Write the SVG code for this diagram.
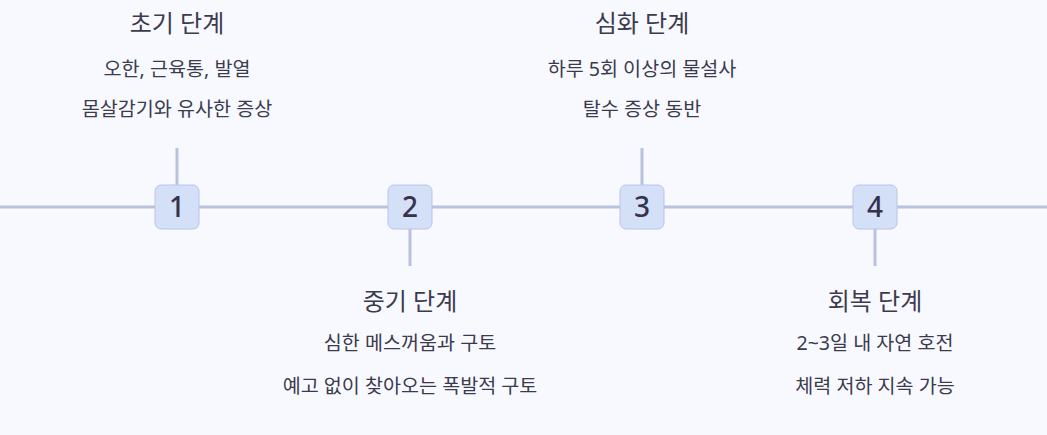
<svg xmlns="http://www.w3.org/2000/svg" width="1047" height="435" viewBox="0 0 1047 435">
<style>
.t{font-family:"Noto Sans","Noto Sans CJK KR",sans-serif;fill:#3b3b4d;text-anchor:middle}
.h{font-size:24px}
.s{font-size:19.6px}
.n{font-family:"Noto Sans",sans-serif;font-size:28px;fill:#33334a;text-anchor:middle;font-weight:500}
.box{fill:#d4dff8;stroke:#b8c6e8;stroke-width:1}
.ln{stroke:#b8c2dc;stroke-width:3;fill:none}
</style>
<rect width="1047" height="435" fill="#f8f9fe"/>
<g id="connectors">
<line class="ln" x1="0" y1="207" x2="1047" y2="207"/>
<line class="ln" x1="177" y1="148" x2="177" y2="185"/>
<line class="ln" x1="410" y1="229" x2="410" y2="266"/>
<line class="ln" x1="642" y1="148" x2="642" y2="185"/>
<line class="ln" x1="875" y1="229" x2="875" y2="266"/>
</g>
<g id="node1">
<rect class="box" x="155" y="185" width="44" height="44" rx="6"/>
<text class="n" x="177" y="217">1</text>
<text class="t h" x="177" y="32">초기 단계</text>
<text class="t s" x="177" y="76">오한, 근육통, 발열</text>
<text class="t s" x="177" y="116">몸살감기와 유사한 증상</text>
</g>
<g id="node2">
<rect class="box" x="388" y="185" width="44" height="44" rx="6"/>
<text class="n" x="410" y="217">2</text>
<text class="t h" x="410" y="310">중기 단계</text>
<text class="t s" x="410" y="350">심한 메스꺼움과 구토</text>
<text class="t s" x="410" y="393">예고 없이 찾아오는 폭발적 구토</text>
</g>
<g id="node3">
<rect class="box" x="620" y="185" width="44" height="44" rx="6"/>
<text class="n" x="642" y="217">3</text>
<text class="t h" x="642" y="32">심화 단계</text>
<text class="t s" x="642" y="76">하루 5회 이상의 물설사</text>
<text class="t s" x="642" y="116">탈수 증상 동반</text>
</g>
<g id="node4">
<rect class="box" x="853" y="185" width="44" height="44" rx="6"/>
<text class="n" x="875" y="217">4</text>
<text class="t h" x="875" y="310">회복 단계</text>
<text class="t s" x="875" y="350">2~3일 내 자연 호전</text>
<text class="t s" x="875" y="393">체력 저하 지속 가능</text>
</g>
</svg>
